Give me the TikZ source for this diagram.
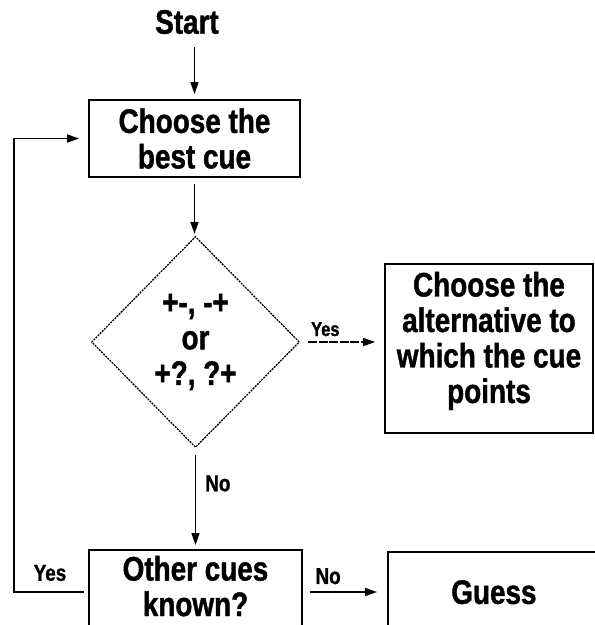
\documentclass[tikz,border=0pt]{standalone}
\usepackage{fontspec}
\newfontfamily\cond[FakeStretch=0.82, BoldFeatures={FakeBold=1.2}]{Liberation Sans}
\usetikzlibrary{shapes.geometric,arrows.meta}
\begin{document}
\begin{tikzpicture}[x=1pt,y=-1pt,
  big/.style={font=\cond\bfseries\fontsize{34}{35.5}\selectfont},
  boxnode/.style={big, draw, line width=1.8pt, inner sep=0pt},
  lab/.style={font=\cond\bfseries\fontsize{23}{24}\selectfont, inner sep=0pt},
  smalllab/.style={font=\cond\bfseries\fontsize{20}{21}\selectfont, inner sep=0pt},
  arr/.style={line width=1.6pt, -{Triangle[length=12pt,width=8pt]}},
  ]
\useasboundingbox (0,0) rectangle (595,625);
\clip (0,0) rectangle (595,625);

\node[big, inner sep=0pt] (start) at (187,22) {Start};
\node[boxnode, align=center, minimum width=211, minimum height=77] (choose) at (194.5,138.5) {Choose the\\best cue};
\node[diamond, draw, big, align=center, line width=1.3pt, dash pattern=on 2pt off 1pt,
      minimum width=208, minimum height=211, inner sep=0pt] (dia) at (195.5,342) {+-, -+\\or\\+?, ?+};
\node[boxnode, align=center, minimum width=208, minimum height=169, anchor=north] (alt) at (489,263)
  {Choose the\\alternative to\\which the cue\\points\rule[-22pt]{0pt}{0pt}};
\node[boxnode, align=center, minimum width=213, inner ysep=6pt, anchor=north] (other) at (195.5,549)
  {Other cues\\known?\rule[-60pt]{0pt}{0pt}};
\node[boxnode, minimum width=212, anchor=north west] (guess) at (387,551)
  {\rule{0pt}{52pt}Guess\rule[-60pt]{0pt}{0pt}};

\coordinate (lvl) at (0,592);
\coordinate (fb) at (14,592);

\draw[arr, shorten <=13pt, shorten >=5pt] (choose.north |- start.south) -- (choose.north);
\draw[arr, shorten <=6pt, shorten >=2pt] (choose.south) -- (choose.south |- dia.north);
\draw[arr, dash pattern=on 9pt off 1.5pt, shorten <=8pt, shorten >=9pt] (dia.east) -- (dia.east -| alt.west)
  node[pos=0.3, above=5pt, smalllab] {Yes};
\draw[arr, shorten <=7pt, shorten >=4pt] (dia.south) -- (dia.south |- other.north)
  node[pos=0.35, right=9pt, lab] {No};
\draw[arr, shorten <=7pt, shorten >=10pt] (other.east |- lvl) -- (guess.west |- lvl)
  node[pos=0.3, above=7pt, lab] {No};
\draw[arr, shorten <=4pt, shorten >=9pt] (other.west |- lvl) -- (fb) |- (choose.west);
\node[lab] (yeslab) at (50,573) {Yes};
\end{tikzpicture}
\end{document}
